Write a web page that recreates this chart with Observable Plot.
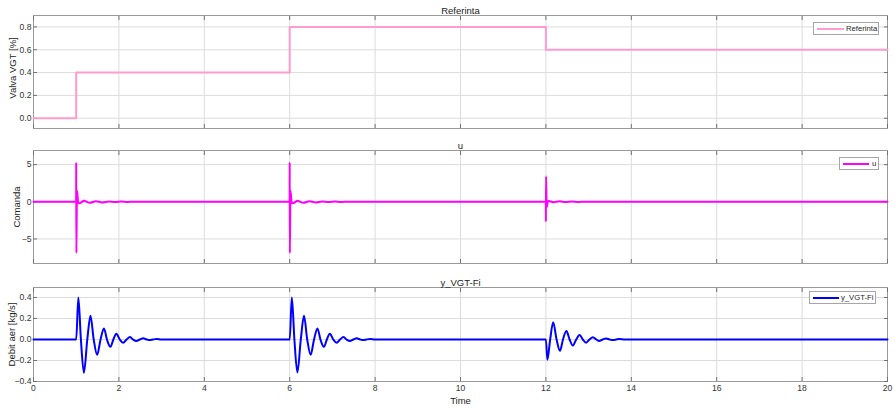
<!DOCTYPE html>
<html>
<head>
<meta charset="utf-8">
<script src="https://cdn.jsdelivr.net/npm/d3@7"></script>
<script src="https://cdn.jsdelivr.net/npm/@observablehq/plot@0.6"></script>
<style>
  html, body { margin: 0; padding: 0; background: #fff; }
  #chart { position: relative; width: 895px; height: 408px; background: #fff;
           font-family: "Liberation Sans", Arial, Helvetica, sans-serif; }
  .panel { position: absolute; left: 0; }
  .legend { position: absolute; box-sizing: border-box; border: 1px solid #a6a6a6;
            background: #fff; }
  .legend .swatch { position: absolute; height: 2px; }
  .legend .label { position: absolute; font-size: 7.7px; color: #262626; line-height: 1; }
</style>
</head>
<body>
<div id="chart"></div>
<script>
// Shared time axis
const timeTicks = [0, 2, 4, 6, 8, 10, 12, 14, 16, 18, 20];
const timeDomain = [0, 20];

// Referinta: reference for the VGT valve position (piecewise constant)
const refTime  = [0, 1, 6, 12, 20];
const refValue = [0, 0.4, 0.8, 0.6, 0.6];
const refTicks = [0, 0.2, 0.4, 0.6, 0.8];
const refDomain = [-0.09, 0.9];

// u: controller command
const uTime = [
  0, 0.999, 1.0, 1.004, 1.018, 1.05, 1.10, 1.18, 1.32, 1.46, 1.61, 1.76, 1.91, 2.06, 2.21, 2.36, 2.6,
  5.999, 6.0, 6.004, 6.018, 6.05, 6.10, 6.18, 6.32, 6.46, 6.61, 6.76, 6.91, 7.06, 7.21, 7.36, 7.6,
  11.999, 12.0, 12.004, 12.018, 12.05, 12.10, 12.18, 12.32, 12.46, 12.61, 12.76, 12.91, 13.2,
  20
];
const uValue = [
  0, 0, 5.3, -6.9, 1.5, -0.2, -0.14, 0.13, -0.14, 0.08, -0.08, 0.05, -0.04, 0.03, -0.02, 0.01, 0,
  0, 5.3, -6.9, 1.5, -0.2, -0.14, 0.13, -0.14, 0.08, -0.08, 0.05, -0.04, 0.03, -0.02, 0.01, 0,
  0, -2.65, 3.4, -0.75, 0.1, 0.07, -0.06, 0.06, -0.04, 0.03, -0.02, 0.01, 0,
  0
];
const uTicks = [-5, 0, 5];
const uDomain = [-8.3, 6.9];

// y_VGT-Fi: measured air flow response
const yTime = [
  0, 1.0, 1.05, 1.11, 1.18, 1.26, 1.335, 1.41, 1.49, 1.57, 1.65, 1.72, 1.80, 1.87, 1.94, 2.02,
  2.10, 2.18, 2.26, 2.33, 2.41, 2.49, 2.57, 2.65, 2.72, 2.80, 2.88, 3.0,
  6.0, 6.05, 6.11, 6.18, 6.26, 6.335, 6.41, 6.49, 6.57, 6.65, 6.72, 6.80, 6.87, 6.94, 7.02,
  7.10, 7.18, 7.26, 7.33, 7.41, 7.49, 7.57, 7.65, 7.72, 7.80, 7.88, 8.0,
  12.0, 12.035, 12.10, 12.17, 12.25, 12.33, 12.40, 12.48, 12.555, 12.63, 12.71, 12.79, 12.865,
  12.94, 13.02, 13.10, 13.18, 13.25, 13.33, 13.41, 13.49, 13.57, 13.65, 13.72, 13.85,
  20
];
const yValue = [
  0, 0, 0.4, 0, -0.317, 0, 0.226, 0, -0.146, 0, 0.105, 0, -0.07, 0, 0.055, 0,
  -0.032, 0, 0.024, 0, -0.015, 0, 0.011, 0, -0.006, 0, 0.004, 0,
  0, 0.4, 0, -0.315, 0, 0.226, 0, -0.146, 0, 0.105, 0, -0.07, 0, 0.055, 0,
  -0.032, 0, 0.024, 0, -0.015, 0, 0.011, 0, -0.006, 0, 0.004, 0,
  0, -0.193, 0, 0.165, 0, -0.108, 0, 0.08, 0, -0.058, 0, 0.043, 0,
  -0.03, 0, 0.022, 0, -0.015, 0, 0.01, 0, -0.006, 0, 0.004, 0,
  0
];
const yTicks = [-0.4, -0.2, 0, 0.2, 0.4];
const yDomain = [-0.4, 0.495];

const colors = { ref: "#ff9ccb", u: "#ff00ff", y: "#0000ff" };

const chart = document.getElementById("chart");
const fontFamily = '"Liberation Sans", Arial, Helvetica, sans-serif';

function toRows(xs, vs) {
  return xs.map((t, i) => ({ t, v: vs[i] }));
}

function panel({ top, height, marginTop, marginBottom, title, ylabel, labelDx, labelDy = 0,
                 rows, color, curve, yTicksArr, yDom, showTime }) {
  const marks = [
    Plot.gridX(timeTicks, { stroke: "#dcdcdc", strokeOpacity: 1 }),
    Plot.gridY(yTicksArr, { stroke: "#dcdcdc", strokeOpacity: 1 }),
    Plot.frame({ stroke: "#9a9a9a" }),
    // inward ticks on all four sides
    Plot.axisY(yTicksArr, { anchor: "left", tickSize: -4, tickPadding: 6, stroke: "#707070",
                            fill: "#333", label: null, fontSize: 8.6 }),
    Plot.axisY(yTicksArr, { anchor: "right", tickSize: -4, stroke: "#707070", fill: "none", label: null }),
    Plot.axisX(timeTicks, { anchor: "top", tickSize: -4, stroke: "#707070", fill: "none", label: null }),
    showTime
      ? Plot.axisX(timeTicks, { anchor: "bottom", tickSize: -4, tickPadding: 7, stroke: "#707070",
                                fill: "#333", label: null, fontSize: 8.6 })
      : Plot.axisX(timeTicks, { anchor: "bottom", tickSize: -4, stroke: "#707070", fill: "none", label: null }),
    Plot.line(rows, { x: "t", y: "v", stroke: color, strokeWidth: 2, curve }),
    Plot.text([title], { text: d => d, frameAnchor: "top", lineAnchor: "bottom", dy: -2,
                         fontSize: 9.5, fill: "#222" }),
    Plot.text([ylabel], { text: d => d, frameAnchor: "left", textAnchor: "middle", lineAnchor: "middle",
                          rotate: -90, dx: labelDx, dy: labelDy, fontSize: 9.5, fill: "#222" })
  ];
  if (showTime) {
    marks.push(Plot.text(["Time"], { text: d => d, frameAnchor: "bottom", lineAnchor: "middle",
                                     dy: 19, fontSize: 9.5, fill: "#222" }));
  }
  const svg = Plot.plot({
    width: 895,
    height,
    marginLeft: 33,
    marginRight: 8,
    marginTop,
    marginBottom,
    style: { fontFamily, fontSize: "8.6px", color: "#333", background: "transparent", overflow: "visible" },
    x: { domain: timeDomain, axis: null },
    y: { domain: yDom, axis: null },
    marks
  });
  const wrap = document.createElement("div");
  wrap.className = "panel";
  wrap.style.top = top + "px";
  wrap.appendChild(svg);
  chart.appendChild(wrap);
}

function legend({ left, top, width, height, color, label, lineLeft, lineWidth, textLeft }) {
  const box = document.createElement("div");
  box.className = "legend";
  Object.assign(box.style, { left: left + "px", top: top + "px", width: width + "px", height: height + "px" });
  const sw = document.createElement("div");
  sw.className = "swatch";
  Object.assign(sw.style, { left: lineLeft + "px", width: lineWidth + "px",
                            top: (height / 2 - 2) + "px", background: color });
  const tx = document.createElement("div");
  tx.className = "label";
  tx.textContent = label;
  Object.assign(tx.style, { left: textLeft + "px", top: (height / 2 - 5) + "px" });
  box.appendChild(sw);
  box.appendChild(tx);
  chart.appendChild(box);
}

panel({ top: 0, height: 136, marginTop: 15, marginBottom: 8, title: "Referinta",
        ylabel: "Valva VGT [%]", labelDx: -21, labelDy: -4,
        rows: toRows(refTime, refValue), color: colors.ref, curve: "step-after",
        yTicksArr: refTicks, yDom: refDomain, showTime: false });

panel({ top: 136, height: 134, marginTop: 14, marginBottom: 7, title: "u",
        ylabel: "Comanda", labelDx: -17,
        rows: toRows(uTime, uValue), color: colors.u, curve: "monotone-x",
        yTicksArr: uTicks, yDom: uDomain, showTime: false });

panel({ top: 270, height: 138, marginTop: 17, marginBottom: 27, title: "y_VGT-Fi",
        ylabel: "Debit aer [kg/s]", labelDx: -22,
        rows: toRows(yTime, yValue), color: colors.y, curve: "monotone-x",
        yTicksArr: yTicks, yDom: yDomain, showTime: true });

legend({ left: 813, top: 22, width: 66, height: 13, color: colors.ref, label: "Referinta",
         lineLeft: 3, lineWidth: 27, textLeft: 32 });
legend({ left: 839, top: 157, width: 40, height: 13, color: colors.u, label: "u",
         lineLeft: 3, lineWidth: 26, textLeft: 32 });
legend({ left: 809, top: 291, width: 67, height: 13, color: colors.y, label: "y_VGT-Fi",
         lineLeft: 3, lineWidth: 26, textLeft: 31 });
</script>
</body>
</html>
